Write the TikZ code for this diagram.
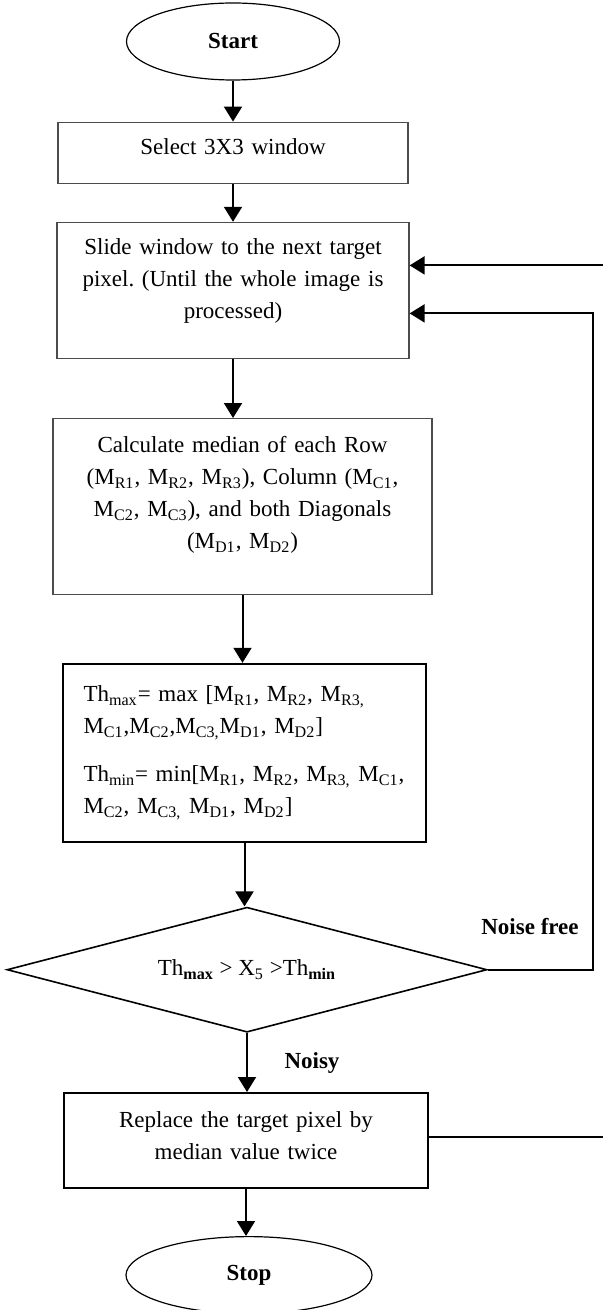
\documentclass[tikz,border=0pt]{standalone}
\usepackage{fontspec}
\setmainfont{Liberation Serif}
\usepackage{tikz}
\usetikzlibrary{shapes,positioning,arrows.meta}
\frenchspacing

\begin{document}
\begin{tikzpicture}[x=0.5pt,y=-0.5pt,font=\fontsize{11.5}{16}\selectfont]
    \tikzstyle{term} = [draw,ellipse,line width=0.6pt,minimum height=38.5pt,inner sep=0pt]
    \tikzstyle{stage} = [draw=black!70,rectangle,line width=0.6pt,align=center]
    \tikzstyle{heavy} = [draw,rectangle,line width=1pt]
    \tikzstyle{decision} = [draw,diamond,aspect=3.84,line width=0.8pt,minimum width=240pt,minimum height=62.5pt,inner sep=0pt]
    \tikzstyle{arrow} = [line width=1pt,-{Triangle[length=7.5pt,width=9pt]}]
    \tikzstyle{mylabel} = [font=\fontsize{11.5}{16}\selectfont\bfseries]
    \useasboundingbox (0,0) rectangle (603,1310);
    \node[term,minimum width=106.5pt] (start) at (233,41.5) {\textbf{Start}};
    \node[stage,minimum width=175pt,minimum height=30.5pt,text width=165pt] (select) [below = 20.5pt of start] {Select 3X3 window\\[-9.5pt]\mbox{}};
    \node[stage,minimum width=176pt,minimum height=68pt,text width=165pt] (slide) [below = 19pt of select] {Slide window to the next target\\pixel. (Until the whole image is\\processed)\\[-4.5pt]\mbox{}};
    \node[stage,minimum width=189.5pt,minimum height=88pt,text width=180pt] (calc) [below = 29.5pt of slide, xshift=4.75pt] {Calculate median of each Row\\(M\textsubscript{R1}, M\textsubscript{R2}, M\textsubscript{R3}), Column (M\textsubscript{C1},\\M\textsubscript{C2}, M\textsubscript{C3}), and both Diagonals\\(M\textsubscript{D1}, M\textsubscript{D2})\\[-2pt]\mbox{}};
    \node[heavy,minimum width=181.5pt,minimum height=89pt,text width=161pt,align=left] (th) [below = 33.8pt of calc, xshift=1pt] {\makebox[\linewidth][s]{Th\textsubscript{max}= max [M\textsubscript{R1}, M\textsubscript{R2}, M\textsubscript{R3,}}\\M\textsubscript{C1},M\textsubscript{C2},M\textsubscript{C3,}M\textsubscript{D1}, M\textsubscript{D2}]\\[8pt]\makebox[\linewidth][s]{Th\textsubscript{min}= min[M\textsubscript{R1}, M\textsubscript{R2}, M\textsubscript{R3,} M\textsubscript{C1},}\\M\textsubscript{C2}, M\textsubscript{C3,} M\textsubscript{D1}, M\textsubscript{D2}]};
    \node[decision] (cond) [below = 31.8pt of th, xshift=1.25pt] {Th\textsubscript{\textbf{max}} > X\textsubscript{5} >Th\textsubscript{\textbf{min}}};
    \node[heavy,minimum width=182pt,minimum height=47.5pt,text width=170pt,align=center] (replace) [below = 29.5pt of cond, xshift=-0.5pt] {Replace the target pixel by\\median value twice\\[-11pt]\mbox{}};
    \node[term,minimum width=123pt] (stop) [below = 23.5pt of replace, xshift=1.5pt] {\textbf{Stop}};
    \node[mylabel] (freelabel) at (530,927) {Noise free};
    \node[mylabel] (noisylabel) at (312,1063) {Noisy};
    % main flow
    \draw[arrow] (start) -- (select);
    \draw[arrow] (select) -- (slide);
    \draw[arrow] (slide) -- (slide |- calc.north);
    \draw[arrow] (calc) -- (calc |- th.north);
    \draw[arrow] (th) -- (th |- cond.north);
    \draw[arrow] (cond) -- (cond |- replace.north);
    \draw[arrow] (replace) -- (replace |- stop.north);
    % loops back on the right
    \coordinate (rim) at (603,0);
    \coordinate (slidein) at ([yshift=12.5pt]slide.east);
    \coordinate (slideback) at ([yshift=-11.5pt]slide.east);
    \coordinate (replaceout) at ([yshift=2pt]replace.east);
    \draw[arrow] (slidein -| rim) -- (slidein);
    \draw[arrow] (cond.east) -- ++(105,0) |- (slideback);
    \draw[line width=1pt] (replaceout) -- (replaceout -| rim);
\end{tikzpicture}
\end{document}
